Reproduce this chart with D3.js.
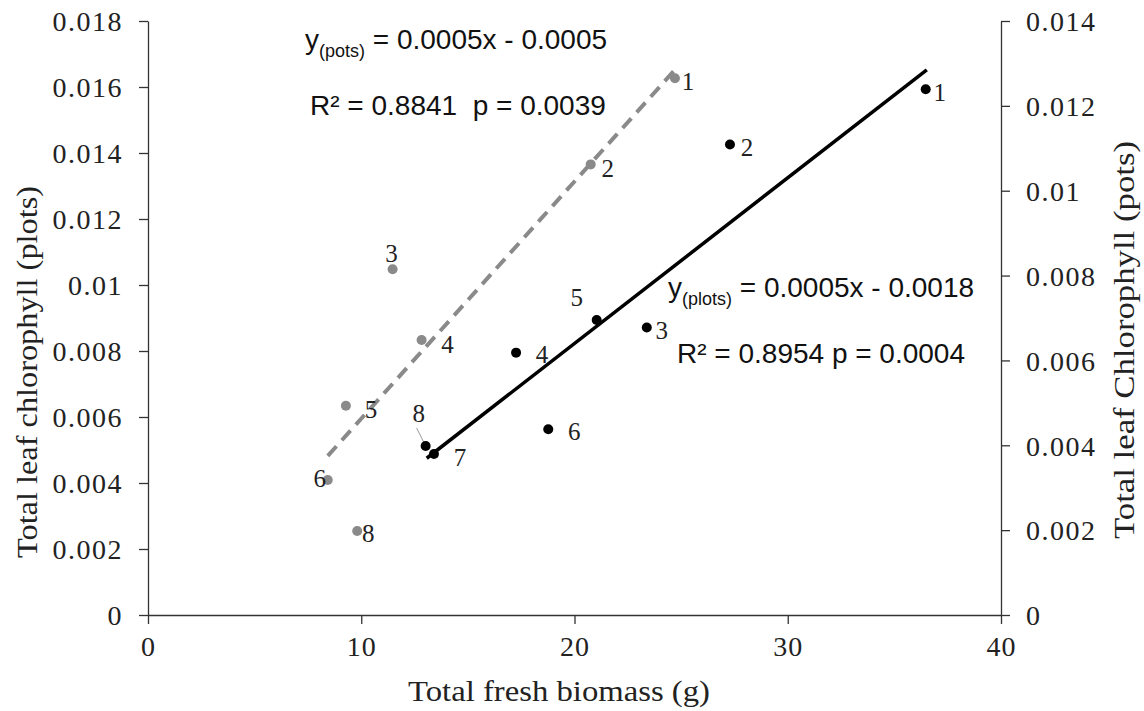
<!DOCTYPE html>
<html>
<head>
<meta charset="utf-8">
<script src="https://cdn.jsdelivr.net/npm/d3@7"></script>
<style>
  body { margin: 0; background: #fff; }
  svg { display: block; }
  .tick text { font-family: "Liberation Serif", "Times New Roman", serif; font-size: 28px; fill: #222; }
  .yaxis .tick text { letter-spacing: 1.5px; }
  .xaxis .tick text { letter-spacing: 1px; }
  .domain, .tick line { stroke: #333; stroke-width: 1.3; }
</style>
</head>
<body>
<svg id="chart" width="1144" height="711"></svg>
<script>
// tick values / labels
const xTicks = [0, 10, 20, 30, 40];
const xTickLabels = ["0", "10", "20", "30", "40"];
const leftTicks = [0, 0.002, 0.004, 0.006, 0.008, 0.01, 0.012, 0.014, 0.016, 0.018];
const leftTickLabels = ["0", "0.002", "0.004", "0.006", "0.008", "0.01", "0.012", "0.014", "0.016", "0.018"];
const rightTicks = [0, 0.002, 0.004, 0.006, 0.008, 0.01, 0.012, 0.014];
const rightTickLabels = ["0", "0.002", "0.004", "0.006", "0.008", "0.01", "0.012", "0.014"];

// plots (black, left axis)
const plotsIds = ["1", "2", "3", "4", "5", "6", "7", "8"];
const plotsBiomass = [36.47, 27.29, 23.39, 17.26, 21.04, 18.77, 13.41, 13.02];
const plotsChl = [0.01593, 0.01426, 0.00871, 0.00795, 0.00894, 0.00563, 0.00488, 0.00512];
const plotsTrendX = [13.07, 36.52];
const plotsTrendY = [0.00475, 0.01652];

// pots (grey, right axis)
const potsIds = ["1", "2", "3", "4", "5", "6", "8"];
const potsBiomass = [24.71, 20.76, 11.47, 12.83, 9.28, 8.43, 9.81];
const potsChl = [0.01265, 0.01062, 0.00815, 0.00648, 0.00493, 0.00318, 0.00198];
const potsTrendX = [8.43, 24.71];
const potsTrendY = [0.00375, 0.01285];

// label placement (offset of label centre from its dot)
const plotsLabelOff = {"1":[14,3],"2":[17,3],"3":[15,3],"4":[26,2],"5":[-20,-23],"6":[26,2],"7":[26,3],"8":[-7,-33]};
const potsLabelOff = {"1":[13,3],"2":[17,4],"3":[-1,-16],"4":[26,4],"5":[25,3],"6":[-8,-2],"8":[11,2]};

const svg = d3.select("#chart");
const x = d3.scaleLinear().domain([0, 40]).range([148, 1001]);
const yL = d3.scaleLinear().domain([0, 0.018]).range([615, 21]);
const yR = d3.scaleLinear().domain([0, 0.014]).range([615, 21]);

// axes
svg.append("g")
  .attr("class", "xaxis")
  .attr("transform", "translate(0,615)")
  .call(d3.axisBottom(x).tickValues(xTicks).tickFormat((d, i) => xTickLabels[i])
    .tickSizeInner(9).tickSizeOuter(0).tickPadding(12));
svg.append("g")
  .attr("class", "yaxis")
  .attr("transform", "translate(148,0)")
  .call(d3.axisLeft(yL).tickValues(leftTicks).tickFormat((d, i) => leftTickLabels[i])
    .tickSizeInner(9).tickSizeOuter(0).tickPadding(16));
svg.append("g")
  .attr("class", "yaxis")
  .attr("transform", "translate(1001,0)")
  .call(d3.axisRight(yR).tickValues(rightTicks).tickFormat((d, i) => rightTickLabels[i])
    .tickSizeInner(9).tickSizeOuter(0).tickPadding(16));
svg.selectAll(".yaxis .tick text").attr("dy", "0.35em");
svg.selectAll(".xaxis .tick text").attr("dy", "0.71em");

// axis titles (stretched a bit along their length like the original)
const serif = "'Liberation Serif', 'Times New Roman', serif";
svg.append("text")
  .attr("transform", "translate(37,372) rotate(-90)")
  .attr("text-anchor", "middle")
  .attr("font-family", serif).attr("font-size", 30).attr("fill", "#222")
  .attr("textLength", 372).attr("lengthAdjust", "spacingAndGlyphs")
  .text("Total leaf chlorophyll (plots)");
svg.append("text")
  .attr("transform", "translate(1134,340) rotate(-90)")
  .attr("text-anchor", "middle")
  .attr("font-family", serif).attr("font-size", 29).attr("fill", "#222")
  .attr("textLength", 398).attr("lengthAdjust", "spacingAndGlyphs")
  .text("Total leaf Chlorophyll (pots)");
svg.append("text")
  .attr("x", 559).attr("y", 701)
  .attr("text-anchor", "middle")
  .attr("font-family", serif).attr("font-size", 30).attr("fill", "#222")
  .attr("textLength", 302).attr("lengthAdjust", "spacingAndGlyphs")
  .text("Total fresh biomass (g)");

// trend lines
const potsLine = d3.line().x(d => x(d[0])).y(d => yR(d[1]));
const plotsLine = d3.line().x(d => x(d[0])).y(d => yL(d[1]));
svg.append("path")
  .attr("d", potsLine(potsTrendX.map((v, i) => [v, potsTrendY[i]])))
  .attr("stroke", "#8a8a8a").attr("stroke-width", 4).attr("stroke-dasharray", "13,8")
  .attr("fill", "none");
svg.append("path")
  .attr("d", plotsLine(plotsTrendX.map((v, i) => [v, plotsTrendY[i]])))
  .attr("stroke", "#000").attr("stroke-width", 3.5)
  .attr("fill", "none");

// pots points
const pots = potsIds.map((id, i) => ({id: id, x: potsBiomass[i], y: potsChl[i]}));
svg.append("g").selectAll("circle")
  .data(pots).enter().append("circle")
  .attr("cx", d => x(d.x)).attr("cy", d => yR(d.y)).attr("r", 5)
  .attr("fill", "#8a8a8a");
svg.append("g").selectAll("text")
  .data(pots).enter().append("text")
  .attr("x", d => x(d.x) + potsLabelOff[d.id][0])
  .attr("y", d => yR(d.y) + potsLabelOff[d.id][1])
  .attr("text-anchor", "middle").attr("dy", "0.35em")
  .attr("font-family", serif).attr("font-size", 25).attr("fill", "#222")
  .text(d => d.id);

// plots points
const plots = plotsIds.map((id, i) => ({id: id, x: plotsBiomass[i], y: plotsChl[i]}));
// leader for label 8
const p8 = plots.find(d => d.id === "8");
svg.append("line")
  .attr("x1", x(p8.x) - 9).attr("y1", yL(p8.y) - 18)
  .attr("x2", x(p8.x) - 2).attr("y2", yL(p8.y) - 4)
  .attr("stroke", "#999").attr("stroke-width", 1);
svg.append("g").selectAll("circle")
  .data(plots).enter().append("circle")
  .attr("cx", d => x(d.x)).attr("cy", d => yL(d.y)).attr("r", 5)
  .attr("fill", "#000");
svg.append("g").selectAll("text")
  .data(plots).enter().append("text")
  .attr("x", d => x(d.x) + plotsLabelOff[d.id][0])
  .attr("y", d => yL(d.y) + plotsLabelOff[d.id][1])
  .attr("text-anchor", "middle").attr("dy", "0.35em")
  .attr("font-family", serif).attr("font-size", 25).attr("fill", "#222")
  .text(d => d.id);

// regression equations
const sans = "'Liberation Sans', Arial, sans-serif";
function equation(xp, yp, sub, rest) {
  const t = svg.append("text").attr("x", xp).attr("y", yp)
    .attr("font-family", sans).attr("font-size", 28).attr("fill", "#111");
  t.append("tspan").text("y");
  t.append("tspan").attr("font-size", 18).attr("dy", 8).text(sub);
  t.append("tspan").attr("dy", -8).text(" " + rest);
}
equation(305, 49, "(pots)", "= 0.0005x - 0.0005");
svg.append("text").attr("x", 310).attr("y", 115)
  .attr("font-family", sans).attr("font-size", 28).attr("fill", "#111")
  .attr("xml:space", "preserve")
  .text("R² = 0.8841  p = 0.0039");
equation(668, 297, "(plots)", "= 0.0005x - 0.0018");
svg.append("text").attr("x", 677).attr("y", 363)
  .attr("font-family", sans).attr("font-size", 28).attr("fill", "#111")
  .text("R² = 0.8954 p = 0.0004");
</script>
</body>
</html>
